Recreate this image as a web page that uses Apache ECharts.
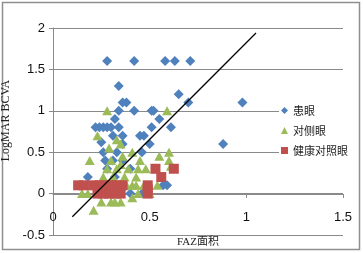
<!DOCTYPE html>
<html>
<head>
<meta charset="utf-8">
<script src="https://cdn.jsdelivr.net/npm/echarts@6/dist/echarts.min.js"></script>
<style>
  html, body { margin: 0; padding: 0; background: #fff; }
  #chart { width: 363px; height: 253px; }
</style>
</head>
<body>
<div id="chart"></div>
<script>
// 患眼
const patientEye = [
  [0.28, 1.6], [0.42, 1.6], [0.58, 1.6], [0.63, 1.6], [0.71, 1.6],
  [0.34, 1.3], [0.65, 1.2],
  [0.36, 1.1], [0.38, 1.1], [0.70, 1.1], [0.98, 1.1],
  [0.34, 1.0], [0.42, 1.0], [0.51, 1.0], [0.52, 1.0],
  [0.32, 0.9], [0.55, 0.9],
  [0.22, 0.8], [0.24, 0.8], [0.26, 0.8], [0.28, 0.8], [0.30, 0.8], [0.34, 0.8], [0.51, 0.8], [0.61, 0.8],
  [0.31, 0.7], [0.36, 0.7], [0.45, 0.7], [0.47, 0.7],
  [0.25, 0.62], [0.36, 0.6], [0.50, 0.6], [0.88, 0.6],
  [0.26, 0.5], [0.33, 0.5], [0.46, 0.5],
  [0.27, 0.4], [0.31, 0.4], [0.36, 0.4],
  [0.28, 0.3], [0.40, 0.3],
  [0.18, 0.2], [0.32, 0.2],
  [0.57, 0.1], [0.59, 0.1],
  [0.40, 0.0], [0.46, 0.0]
];
// 对侧眼
const fellowEye = [
  [0.28, 1.0], [0.59, 1.0],
  [0.23, 0.7], [0.33, 0.65], [0.35, 0.6], [0.29, 0.55],
  [0.41, 0.5], [0.60, 0.5], [0.55, 0.45],
  [0.19, 0.4], [0.30, 0.4], [0.36, 0.45], [0.45, 0.4], [0.60, 0.4],
  [0.28, 0.3], [0.33, 0.3], [0.35, 0.35], [0.39, 0.3], [0.44, 0.3], [0.48, 0.3], [0.61, 0.33],
  [0.26, 0.2], [0.31, 0.2], [0.37, 0.2], [0.43, 0.2],
  [0.22, 0.1], [0.32, 0.1], [0.38, 0.1], [0.41, 0.1], [0.43, 0.1], [0.47, 0.1], [0.54, 0.1],
  [0.15, 0.0], [0.18, 0.0], [0.44, 0.0], [0.50, 0.0],
  [0.25, -0.1], [0.30, -0.1], [0.32, -0.1], [0.35, -0.1], [0.41, -0.05],
  [0.21, -0.2]
];
// 健康对照眼
const controlEye = [
  [0.13, 0.1], [0.16, 0.1], [0.21, 0.1], [0.24, 0.1], [0.27, 0.1], [0.30, 0.1], [0.33, 0.1], [0.36, 0.1],
  [0.23, 0.0], [0.26, 0.0], [0.29, 0.0], [0.32, 0.0], [0.35, 0.0],
  [0.25, 0.05], [0.31, 0.05],
  [0.49, 0.1], [0.49, 0.05], [0.49, 0.0],
  [0.53, 0.3], [0.625, 0.3], [0.56, 0.2]
];
// trend line end points
const trendX = [0.1, 1.05];
const trendY = [-0.28, 1.94];

const seriesNames = ['患眼', '对侧眼', '健康对照眼'];

const chart = echarts.init(document.getElementById('chart'));
const option = {
  animation: false,
  graphic: [{
    type: 'rect',
    shape: { x: 2.5, y: 2.5, width: 357, height: 247 },
    style: { fill: 'none', stroke: '#8f8f8f', lineWidth: 1.5 },
    z: -1
  }],
  grid: { left: 53, right: 20, top: 28, bottom: 18, outerBoundsMode: 'none', containLabel: false },
  legend: {
    orient: 'vertical',
    left: 279,
    top: 103,
    itemWidth: 7,
    itemHeight: 7,
    itemGap: 9,
    backgroundColor: '#fff',
    padding: [2, 2, 2, 2],
    textStyle: { fontFamily: 'Noto Sans CJK SC', fontSize: 11, color: '#222' },
    data: seriesNames
  },
  xAxis: {
    type: 'value',
    min: 0, max: 1.5, interval: 0.5,
    position: 'bottom',
    offset: -41,   // x axis crosses at y = 0
    name: 'FAZ面积',
    nameLocation: 'middle',
    nameGap: 43,
    nameTextStyle: { fontFamily: 'Liberation Serif, Noto Sans CJK SC', fontSize: 11, color: '#222' },
    axisLine: { onZero: false, lineStyle: { color: '#8a8a8a' } },
    axisTick: { show: true, length: 4, lineStyle: { color: '#8a8a8a' } },
    axisLabel: { margin: 17, fontFamily: 'Liberation Sans', fontSize: 13, color: '#111' },
    splitLine: { show: false }
  },
  yAxis: {
    type: 'value',
    min: -0.5, max: 2, interval: 0.5,
    name: 'LogMAR BCVA',
    nameLocation: 'middle',
    nameGap: 36,
    nameTextStyle: { fontFamily: 'Liberation Serif', fontSize: 12, color: '#222', padding: [0, 0, 0, 22] },
    axisLine: { show: true, onZero: false, lineStyle: { color: '#8a8a8a' } },
    axisTick: { show: true, length: 4, lineStyle: { color: '#8a8a8a' } },
    axisLabel: { margin: 8, fontFamily: 'Liberation Sans', fontSize: 13, color: '#111' },
    splitLine: { show: true, lineStyle: { color: '#8a8a8a', width: 1 } }
  },
  series: [
    {
      name: seriesNames[0], type: 'scatter', symbol: 'diamond', symbolSize: 10,
      itemStyle: { color: '#4F81BD', opacity: 1 }, data: patientEye, z: 2
    },
    {
      name: seriesNames[1], type: 'scatter', symbol: 'triangle', symbolSize: [10, 9],
      itemStyle: { color: '#9BBB59', opacity: 1 }, data: fellowEye, z: 3
    },
    {
      name: seriesNames[2], type: 'scatter', symbol: 'rect', symbolSize: 10,
      itemStyle: { color: '#C0504D', opacity: 1 }, data: controlEye, z: 4
    },
    {
      name: 'trend', type: 'line', showSymbol: false, silent: true,
      lineStyle: { color: '#000', width: 1.3 },
      data: trendX.map((x, i) => [x, trendY[i]]), z: 5
    }
  ]
};
chart.setOption(option);
</script>
</body>
</html>
